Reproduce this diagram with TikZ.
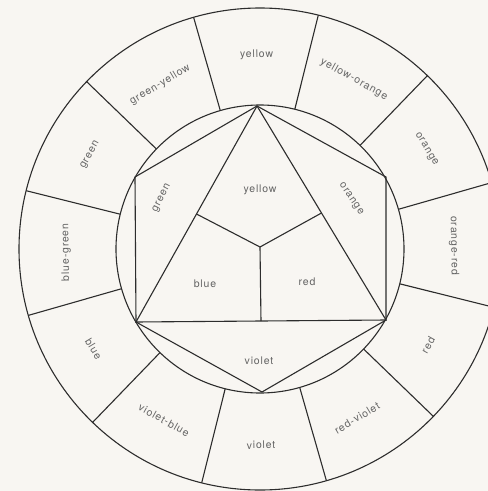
\documentclass[tikz,border=0pt]{standalone}
\usepackage{fontspec}
\setmainfont{TeX Gyre Heros}
\usetikzlibrary{calc}
\definecolor{paper}{RGB}{248,246,242}
\definecolor{ink}{RGB}{45,45,45}
\definecolor{labelgray}{RGB}{100,100,100}

\begin{document}
\begin{tikzpicture}[x=1pt,y=1pt,yscale=-1,xscale=1,
  rim/.style={draw=ink,line width=1.1pt,line join=miter},
  hue/.style={text=labelgray,inner sep=0.75pt,anchor=center,
    font=\fontsize{10.5}{12}\selectfont\addfontfeature{LetterSpace=8}}]

% background and page
\fill [paper] (0,0) rectangle (488,491);
\clip (0,0) rectangle (488,491);

%Shape: Circle
\draw [rim] (260,249) circle (241pt);
%Shape: Circle
\draw [rim] (260,249) circle (144pt);

% corners of the hexagon
\coordinate (htop) at (257,106);
\coordinate (hul) at (135,177);
\coordinate (hur) at (386,177);
\coordinate (hll) at (136,322);
\coordinate (hlr) at (386,320);
\coordinate (hbot) at (262,392);
\coordinate (tmid) at (260,247);

%Shape: Hexagon
\draw [rim] (htop) -- (hul) -- (hll) -- (hbot) -- (hlr) -- (hur) -- cycle;
%Shape: Triangle
\draw [rim] (htop) -- (hll) -- (hlr) -- cycle;
%Straight Lines
\draw [rim] (tmid) -- ($(htop)!0.5!(hll)$);
%Straight Lines
\draw [rim] (tmid) -- ($(htop)!0.5!(hlr)$);
%Straight Lines
\draw [rim] (tmid) -- ($(hll)!0.5!(hlr)$);

%Straight Lines (ring)
\draw [rim] (398.4,209.3) -- (491.7,182.6);
\draw [rim] (360.0,145.4) -- (427.4,75.6);
\draw [rim] (294.8,109.3) -- (318.3,15.2);
\draw [rim] (220.3,110.6) -- (193.6,17.3);
\draw [rim] (156.4,149.0) -- (86.6,81.6);
\draw [rim] (120.3,214.2) -- (26.2,190.7);
\draw [rim] (121.6,288.7) -- (28.3,315.4);
\draw [rim] (160.0,352.6) -- (92.6,422.4);
\draw [rim] (225.2,388.7) -- (201.7,482.8);
\draw [rim] (299.7,387.4) -- (326.4,480.7);
\draw [rim] (363.6,349.0) -- (433.4,416.4);
\draw [rim] (399.7,283.8) -- (493.8,307.3);

% Text Node
\draw (256.6,55.0) node (ryellow) [hue,rotate=1] {yellow};
% Text Node
\draw (354.1,79.3) node (ryelloworange) [hue,rotate=-29] {yellow-orange};
% Text Node
\draw (426.3,149.1) node (rorange) [hue,rotate=-59] {orange};
% Text Node
\draw (454.0,245.6) node (rorangered) [hue,rotate=-89] {orange-red};
% Text Node
\draw (428.0,345.0) node (rred) [hue,rotate=61] {red};
% Text Node
\draw (357.0,418.0) node (rredviolet) [hue,rotate=31] {red-violet};
% Text Node
\draw (261.0,445.0) node (rviolet) [hue,rotate=1] {violet};
% Text Node
\draw (164.0,420.0) node (rvioletblue) [hue,rotate=-29] {violet-blue};
% Text Node
\draw (93.7,348.9) node (rblue) [hue,rotate=-59] {blue};
% Text Node
\draw (66.0,252.4) node (rbluegreen) [hue,rotate=91] {blue-green};
% Text Node
\draw (90.3,154.9) node (rgreen) [hue,rotate=61] {green};
% Text Node
\draw (160.1,84.7) node (rgreenyellow) [hue,rotate=31] {green-yellow};

% Text Node
\draw (260,190) node (pyellow) [hue] {yellow};
% Text Node
\draw (205,284) node (pblue) [hue] {blue};
% Text Node
\draw (307,282) node (pred) [hue] {red};
% Text Node
\draw (162,198) node (sgreen) [hue,rotate=63] {green};
% Text Node
\draw (351,199) node (sorange) [hue,rotate=-56] {orange};
% Text Node
\draw (259,361) node (sviolet) [hue] {violet};

\end{tikzpicture}
\end{document}
